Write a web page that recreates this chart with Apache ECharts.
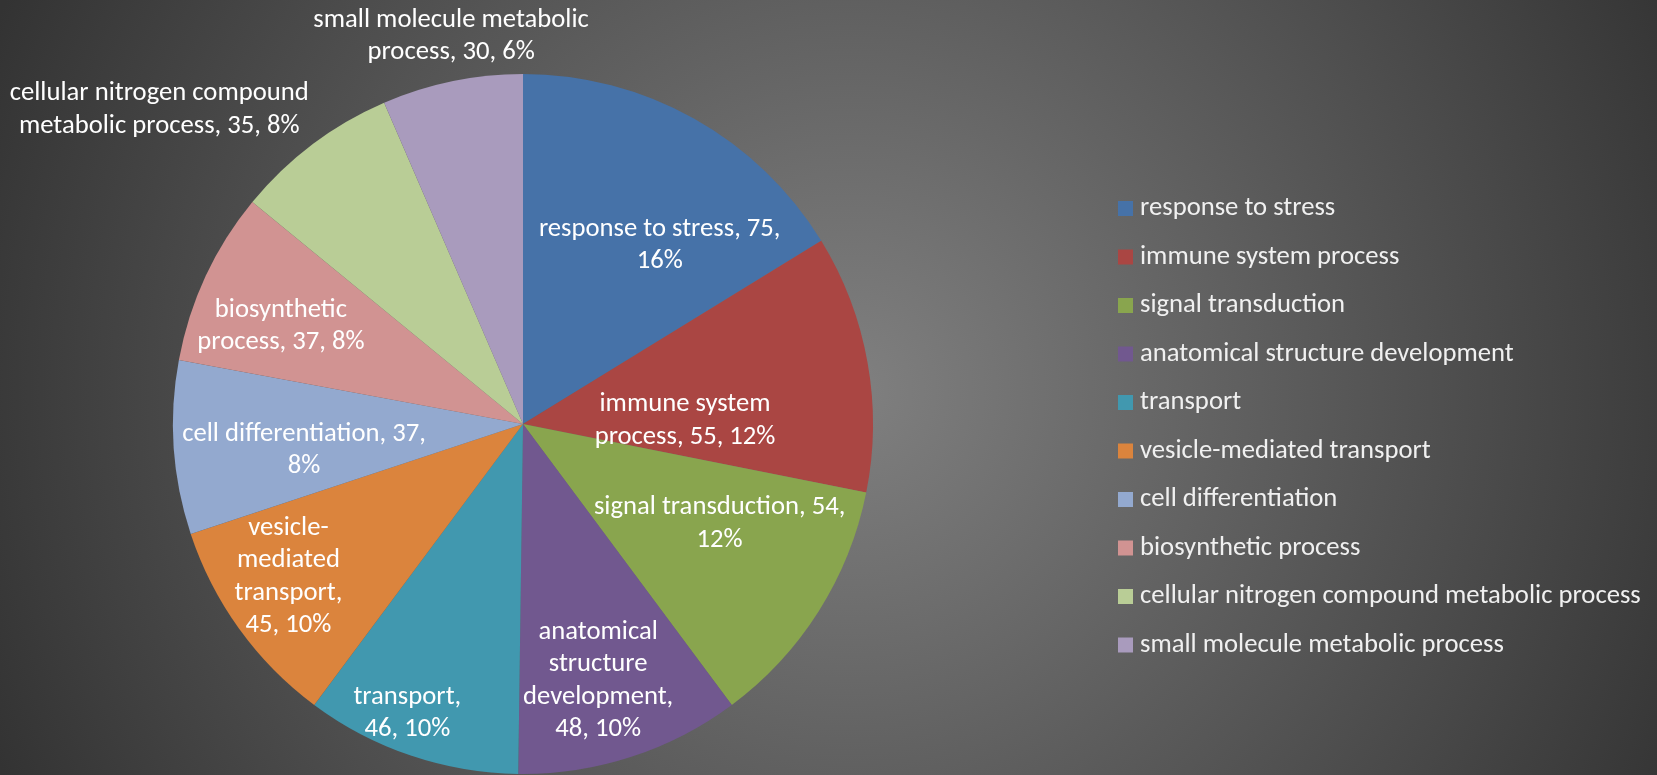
<!DOCTYPE html>
<html>
<head>
<meta charset="utf-8">
<script src="https://cdn.jsdelivr.net/npm/echarts@6/dist/echarts.min.js"></script>
<style>
html,body{margin:0;padding:0;width:1657px;height:775px;overflow:hidden;background:#555;}
#chart{width:1657px;height:775px;}
</style>
</head>
<body>
<div id="chart"></div>
<script>
// ---- data ----
const categories = [
  'response to stress',
  'immune system process',
  'signal transduction',
  'anatomical structure development',
  'transport',
  'vesicle-mediated transport',
  'cell differentiation',
  'biosynthetic process',
  'cellular nitrogen compound metabolic process',
  'small molecule metabolic process'
];
const values = [75, 55, 54, 48, 46, 45, 37, 37, 35, 30];

// ---- style ----
const colors = ['#4672A8','#AA4643','#89A54E','#71588F','#4198AF','#DB843D','#93A9CF','#D19392','#B9CD96','#A99BBD'];
// tokens per wrapped line of each data label
const labelWordsPerLine = [[4,1],[2,3],[3,1],[1,1,1,2],[1,2],[1,1,1,2],[3,1],[1,3],[3,4],[3,3]];
// label placement: fraction of radius, angle clockwise from 12 o'clock (deg)
const labelRadius = [0.643,0.463,0.63,0.765,0.89,0.80,0.63,0.746,1.373,1.127];
const labelAngle  = [37.4,88.9,116.9,163.7,201.8,236.9,263.2,292,310.8,349.5];
const CX = 523, CY = 424, R = 350;
const FONT = 'Carlito, Calibri, Lato, "Open Sans", sans-serif';
const FS = 26.67;

function wrapLabel(text, counts){
  const tokens = text.replace(/-/g, '- ').split(' ').filter(t => t.length);
  const lines = []; let k = 0;
  counts.forEach(c => {
    let s = '';
    for (let j = 0; j < c && k < tokens.length; j++, k++) {
      if (s && !s.endsWith('-')) s += ' ';
      s += tokens[k];
    }
    lines.push(s);
  });
  while (k < tokens.length) { lines[lines.length-1] += ' ' + tokens[k++]; }
  return lines.join('\n');
}

const chart = echarts.init(document.getElementById('chart'), null, {renderer:'canvas'});
chart.setOption({
  backgroundColor: {
    type: 'radial', x: 850, y: 390, r: 930, global: true,
    colorStops: [{offset:0, color:'#808080'},{offset:1, color:'#333333'}]
  },
  color: colors,
  legend: {
    orient: 'vertical',
    left: 1113,
    top: 190,
    itemWidth: 15,
    itemHeight: 15,
    itemGap: 21.5,
    icon: 'rect',
    textStyle: { color: '#f0f0f0', fontSize: FS, lineHeight: FS, fontFamily: FONT, padding: [0,0,0,2] },
    data: categories
  },
  series: [{
    type: 'pie',
    center: [CX, CY],
    radius: R,
    startAngle: 90,
    clockwise: true,
    percentPrecision: 0,
    avoidLabelOverlap: false,
    animation: false,
    emphasis: { disabled: true },
    itemStyle: { borderWidth: 0 },
    label: {
      show: true,
      position: 'inside',
      color: '#ffffff',
      fontSize: FS,
      lineHeight: 32.5,
      fontFamily: FONT,
      align: 'center',
      formatter: p => wrapLabel(p.name + ', ' + p.value + ', ' + p.percent + '%', labelWordsPerLine[p.dataIndex])
    },
    labelLine: { show: false },
    labelLayout: function (p) {
      const i = p.dataIndex;
      const a = labelAngle[i] * Math.PI / 180;
      return {
        x: CX + labelRadius[i] * R * Math.sin(a),
        y: CY - labelRadius[i] * R * Math.cos(a),
        align: 'center',
        verticalAlign: 'middle'
      };
    },
    data: categories.map((c, i) => ({ name: c, value: values[i] }))
  }]
});
</script>
</body>
</html>
